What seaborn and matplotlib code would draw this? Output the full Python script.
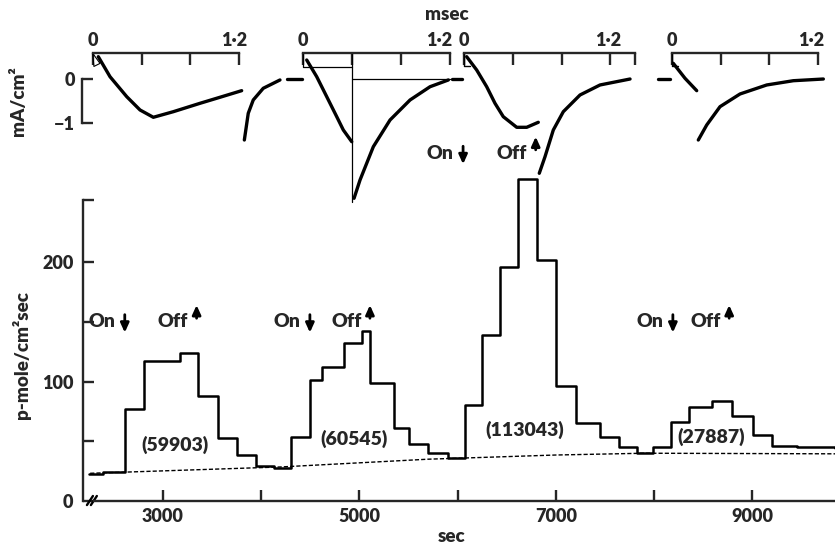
import matplotlib
matplotlib.use('Agg')
import matplotlib.pyplot as plt
import matplotlib.transforms as mtransforms
import seaborn as sns
import numpy as np

# ---- data ----
# flux histogram (sec, p-mole/cm2 sec), step edges with the level that starts there
hist_sec = [2250, 2393, 2612, 2809, 3173, 3360, 3564, 3752, 3946, 4127, 4306, 4500, 4619,
            4840, 5027, 5112, 5357, 5503, 5697, 5901, 6074, 6251, 6431, 6619, 6812, 6999,
            7203, 7448, 7645, 7825, 7985, 8172, 8359, 8593, 8787, 9008, 9195, 9450, 9840]
hist_flux = [23, 24.5, 77, 117.5, 124, 88, 53, 38.5, 29, 28, 54, 101, 112,
             132, 142, 99, 61, 48, 40, 36, 80, 139, 196, 270, 202, 96,
             65, 54, 45.5, 40, 45.5, 66, 78.5, 84, 71, 55, 46, 45, 44]
# resting flux (dashed)
base_sec = [2260, 4200, 5700, 7000, 7900, 9840]
base_flux = [23.2, 28.5, 35.0, 38.5, 40.0, 39.5]

count_labels = ['(59903)', '(60545)', '(113043)', '(27887)']
count_sec = [3122, 4945, 6682, 8582]
count_flux = [47, 52, 59.5, 54]

on_sec = [2612, 4496, 6055, 8190]
off_sec = [3343, 5107, 6794, 8763]
marker_flux = [150, 150, 291, 150]

# membrane current records (msec, mA/cm2), one set per inset
on_ms = [
    [0.046, 0.142, 0.279, 0.388, 0.497, 0.661, 0.880, 1.043, 1.221],
    [0.028, 0.110, 0.192, 0.274, 0.328, 0.397],
    [0.022, 0.104, 0.186, 0.254, 0.322, 0.432, 0.514, 0.609],
    [0.013, 0.109, 0.205],
]
on_ma = [
    [0.524, 0.064, -0.395, -0.701, -0.869, -0.740, -0.547, -0.409, -0.257],
    [0.448, 0.064, -0.395, -0.855, -1.161, -1.430],
    [0.524, 0.218, -0.166, -0.547, -0.855, -1.099, -1.099, -0.984],
    [0.372, 0.028, -0.257],
]
off_ms = [
    [1.243, 1.275, 1.316, 1.398, 1.535],
    [0.416, 0.465, 0.574, 0.711, 0.875, 1.039, 1.189],
    [0.617, 0.664, 0.732, 0.814, 0.951, 1.115, 1.361],
    [0.218, 0.287, 0.396, 0.560, 0.779, 0.997, 1.243],
]
off_ma = [
    [-1.391, -0.777, -0.471, -0.202, -0.011],
    [-2.731, -2.310, -1.545, -0.931, -0.471, -0.166, -0.011],
    [-2.156, -1.775, -1.161, -0.740, -0.356, -0.126, 0.011],
    [-1.391, -1.046, -0.625, -0.333, -0.126, -0.028, 0.011],
]
# short zero-current marks (inset index, start ms, end ms)
zero_marks = [(0, 1.595, 1.718), (1, 1.219, 1.30), (3, -0.112, -0.014)]
# thin outline in second inset
thin_ms = [[0, 0, 0.397], [0.397, 0.397], [0.397, 1.2]]
thin_ma = [[0.602, 0.294, 0.294], [0.602, -2.81], [0.0, 0.0]]

inset_zero_px = [92.7, 303.3, 464.0, 671.7]
inset_ticks = [[0, 0.4, 0.8, 1.2], [0, 0.4, 0.8, 1.2], [0, 0.4, 0.8, 1.2, 1.4], [0, 0.4, 0.8, 1.2]]
# nudge of the "1·2" label, in pixels
label_shift = [-5, -11, -2, -7]

sns.set_style('ticks')
plt.rcParams['font.family'] = ['Lato', 'DejaVu Sans']
plt.rcParams['font.weight'] = 'heavy'
FW = 'heavy'

W, H = 835, 554
fig = plt.figure(figsize=(W / 100, H / 100), dpi=100)


def px_axes(left, top, right, bottom):
    a = fig.add_axes([left / W, 1 - bottom / H, (right - left) / W, (bottom - top) / H])
    a.patch.set_visible(False)
    return a


# ---- bottom panel: flux ----
ax = px_axes(83.3, 200, 835, 501)
sns.lineplot(x=hist_sec, y=hist_flux, drawstyle='steps-post', estimator=None, sort=False,
             color='black', lw=1.8, ax=ax)
sns.lineplot(x=base_sec, y=base_flux, estimator=None, sort=False, color='black', lw=1.0,
             ls=(0, (3, 1.5)), ax=ax)
for line in ax.lines:
    line.set_clip_on(False)
ax.set_xlim(2190, 9840)
ax.set_ylim(0, 252)
for s in ['top', 'right']:
    ax.spines[s].set_visible(False)
for s in ['left', 'bottom']:
    ax.spines[s].set_linewidth(1.7)
ax.spines['left'].set_bounds(0, 252)
ax.spines['bottom'].set_bounds(2300, 9840)
ax.set_xticks(range(3000, 9001, 1000))
ax.set_xticklabels(['3000', '', '5000', '', '7000', '', '9000'])
ax.set_yticks([0, 50, 100, 150, 200, 252])
ax.set_yticklabels(['0', '', '100', '', '200', ''])
ax.tick_params(direction='in', length=8, width=1.7, labelsize=13)
ax.tick_params(axis='x', pad=5)
ax.tick_params(axis='y', pad=7)
ax.set_xlabel('')
ax.set_ylabel('')
# axis break marks
for dx in [0, 40]:
    ax.plot([2227 + dx, 2288 + dx], [-3.4, 4.2], color='black', lw=1.7, clip_on=False)

for lab, xs, ys in zip(count_labels, count_sec, count_flux):
    ax.text(xs, ys, lab, ha='center', va='center', fontsize=14, fontweight=FW)

arrow_style = dict(arrowstyle='-|>,head_length=0.55,head_width=0.25', lw=2.0,
                   color='black', shrinkA=0, shrinkB=0)
for t_on, t_off, yv in zip(on_sec, off_sec, marker_flux):
    ax.annotate('On', xy=(t_on, yv), xytext=(-7, 0), textcoords='offset points',
                ha='right', va='center', fontsize=14, fontweight=FW, annotation_clip=False)
    ax.annotate('', xy=(t_on, yv - 9), xytext=(t_on, yv + 6), arrowprops=arrow_style,
                annotation_clip=False)
    ax.annotate('Off', xy=(t_off, yv), xytext=(-6, 0), textcoords='offset points',
                ha='right', va='center', fontsize=14, fontweight=FW, annotation_clip=False)
    ax.annotate('', xy=(t_off, yv + 14), xytext=(t_off, yv + 3), arrowprops=arrow_style,
                annotation_clip=False)

fig.text(22 / W, 1 - 355 / H, 'p-mole/cm²sec', rotation=90, ha='center', va='center',
         fontsize=13.5, fontweight=FW)
fig.text(452 / W, 1 - 536 / H, 'sec', ha='center', va='center', fontsize=13.5, fontweight=FW)

# ---- top insets: membrane current ----
for i, x0 in enumerate(inset_zero_px):
    ia = px_axes(x0 - 0.32 * 122, 53.3, x0 + 1.75 * 122, 210)
    ia.set_xlim(-0.32, 1.75)
    ia.set_ylim(-3.0, 0.602)
    sns.lineplot(x=on_ms[i], y=on_ma[i], estimator=None, sort=False, color='black', lw=2.4,
                 ax=ia)
    sns.lineplot(x=off_ms[i], y=off_ma[i], estimator=None, sort=False, color='black', lw=2.4,
                 ax=ia)
    for line in ia.lines:
        line.set_clip_on(False)
    for s in ['bottom', 'right']:
        ia.spines[s].set_visible(False)
    ia.spines['top'].set_linewidth(1.7)
    ia.spines['top'].set_bounds(0, inset_ticks[i][-1])
    ia.xaxis.set_ticks_position('top')
    ia.set_xticks(inset_ticks[i])
    ia.set_xticklabels(['0', '', '', '1·2', ''][:len(inset_ticks[i])])
    ia.tick_params(axis='x', direction='in', length=8.5, width=1.7, pad=3, labelsize=13)
    shift = mtransforms.ScaledTranslation(label_shift[i] / 100, 0, fig.dpi_scale_trans)
    tl = ia.get_xticklabels()[3]
    tl.set_transform(tl.get_transform() + shift)
    ia.set_xlabel('')
    ia.set_ylabel('')
    if i == 0:
        ia.spines['left'].set_position(('data', -0.09))
        ia.spines['left'].set_bounds(-1, 0)
        ia.spines['left'].set_linewidth(1.7)
        ia.set_yticks([-1, 0])
        ia.set_yticklabels(['\u22121', '0'])
        ia.tick_params(axis='y', direction='in', length=8, width=1.7, pad=5, labelsize=13)
        ia.plot([0, 0.01, 0.06, 0], [0.602, 0.30, 0.37, 0.602], color='black', lw=0.8,
                clip_on=False)
    else:
        ia.spines['left'].set_visible(False)
        ia.set_yticks([])
    if i == 1:
        for xs, ys in zip(thin_ms, thin_ma):
            ia.plot(xs, ys, color='black', lw=0.9, clip_on=False)
    if i in (2, 3):
        ia.plot([0, 0, 0.05], [0.602, 0.30, 0.30], color='black', lw=1.0, clip_on=False)
    for k, xa, xb in zero_marks:
        if k == i:
            ia.plot([xa, xb], [0, 0], color='black', lw=2.4, clip_on=False)

fig.text(447 / W, 1 - 14 / H, 'msec', ha='center', va='center', fontsize=13.5, fontweight=FW)
fig.text(18 / W, 1 - 101 / H, 'mA/cm²', rotation=90, ha='center', va='center',
         fontsize=13.5, fontweight=FW)

fig.savefig('out.png', dpi=100)
